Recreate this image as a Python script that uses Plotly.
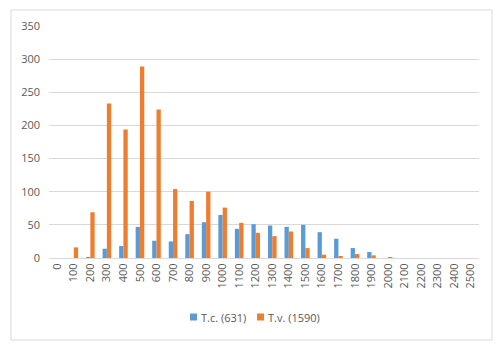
import plotly.graph_objects as go

# Length classes (category axis)
categories = [str(v) for v in range(0, 2600, 100)]

# Counts per class
tc_counts = [0, 0, 1, 14, 18, 47, 26, 25, 36, 54, 65, 44, 51, 49, 47, 50,
             39, 29, 15, 9, 0, 0, 0, 0, 0, 0]
tv_counts = [0, 16, 69, 233, 194, 289, 224, 104, 86, 100, 76, 53, 38, 33, 40, 15,
             5, 3, 6, 4, 1, 0, 0, 0, 0, 0]

series_names = ["T.c. (631)", "T.v. (1590)"]
y_ticks = [0, 50, 100, 150, 200, 250, 300, 350]

BLUE = "#5B9BD5"
ORANGE = "#ED7D31"
COLORS = [BLUE, ORANGE]
TEXT = "#595959"
GRID = "#D9D9D9"
FONT = "Open Sans, Liberation Sans, sans-serif"

W, H = 500, 349
L, R, T, B = 49, 21, 26, 91

fig = go.Figure()
for name, counts, color in zip(series_names, [tc_counts, tv_counts], COLORS):
    fig.add_trace(go.Bar(x=categories, y=counts, name=name,
                         marker=dict(color=color, line=dict(width=0))))

plot_w = W - L - R
plot_h = H - T - B


def px_to_paper_x(px):
    return (px - L) / plot_w


def px_to_paper_y(py):
    return (H - B - py) / plot_h


# Light frame around the whole chart
fig.add_shape(type="rect", xref="paper", yref="paper",
              x0=px_to_paper_x(11), x1=px_to_paper_x(492),
              y0=px_to_paper_y(340), y1=px_to_paper_y(10),
              line=dict(color=GRID, width=1), fillcolor="rgba(0,0,0,0)",
              layer="below")

# Compact legend below the axis: colour swatch followed closely by the label
legend_y = 317
legend_x = [190, 257]
for name, color, lx in zip(series_names, COLORS, legend_x):
    fig.add_shape(type="rect", xref="paper", yref="paper",
                  x0=px_to_paper_x(lx), x1=px_to_paper_x(lx + 7),
                  y0=px_to_paper_y(legend_y + 3.5), y1=px_to_paper_y(legend_y - 3.5),
                  line=dict(width=0), fillcolor=color)
    fig.add_annotation(xref="paper", yref="paper",
                       x=px_to_paper_x(lx + 9), y=px_to_paper_y(legend_y),
                       xanchor="left", yanchor="middle", showarrow=False,
                       text=name, font=dict(size=11, color=TEXT))

fig.update_layout(
    width=W, height=H,
    margin=dict(l=L, r=R, t=T, b=B),
    paper_bgcolor="white", plot_bgcolor="white",
    barmode="group", bargap=0.48, bargroupgap=0,
    font=dict(family=FONT, size=11, color=TEXT),
    showlegend=False,
    xaxis=dict(type="category", tickangle=-90, showgrid=False,
               showline=True, linecolor=GRID, linewidth=1,
               ticks="", tickfont=dict(size=11, color=TEXT)),
    yaxis=dict(range=[0, 350], tickvals=y_ticks, showgrid=True,
               gridcolor=GRID, gridwidth=1, zeroline=False,
               showline=False, ticks="", ticklen=0, ticklabelstandoff=8,
               tickfont=dict(size=11, color=TEXT)),
)

fig.write_html("out.html")
